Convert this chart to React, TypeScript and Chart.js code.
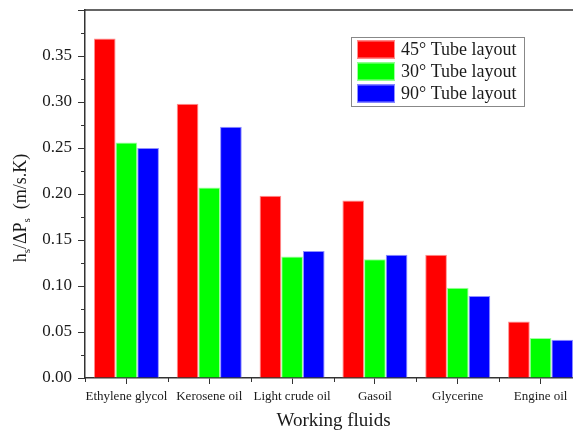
import React, { useEffect, useRef } from 'react';
import { Chart, registerables } from 'chart.js';

Chart.register(...registerables);

const categories = ['Ethylene glycol', 'Kerosene oil', 'Light crude oil', 'Gasoil', 'Glycerine', 'Engine oil'];
const series45 = [0.369, 0.298, 0.198, 0.193, 0.134, 0.0615];
const series30 = [0.256, 0.207, 0.132, 0.129, 0.098, 0.0434];
const series90 = [0.250, 0.273, 0.138, 0.134, 0.089, 0.0416];
const seriesLabels = ['45° Tube layout', '30° Tube layout', '90° Tube layout'];
const seriesColors = ['#ff0000', '#00ff00', '#0000ff'];
const seriesEdges = ['#ff9090', '#a0ffa0', '#9090ff'];
const yMin = 0;
const yMax = 0.4;
const yStep = 0.05;
const xTitle = 'Working fluids';
const yTitleParts = [
  { t: 'h', sub: false },
  { t: 's', sub: true },
  { t: '/ΔP', sub: false },
  { t: 's', sub: true },
  { t: '  (m/s.K)', sub: false },
];

const FONT = "'Liberation Serif', 'Times New Roman', serif";
const AXIS = '#333333';
const TEXT = '#1a1a1a';

const decorPlugin = {
  id: 'decor',
  afterDraw(chart: any) {
    const { ctx, chartArea } = chart;
    const { left, right, top, bottom } = chartArea;
    const xs = chart.scales.x;
    const ys = chart.scales.y;
    ctx.save();
    // frame
    ctx.strokeStyle = AXIS;
    ctx.lineWidth = 1.5;
    ctx.beginPath();
    ctx.moveTo(left, top);
    ctx.lineTo(right, top);
    ctx.lineTo(right, bottom);
    ctx.stroke();
    // minor y ticks
    ctx.lineWidth = 1;
    ctx.beginPath();
    for (let k = 0; k < Math.round((yMax - yMin) / yStep); k++) {
      const v = yMin + (k + 0.5) * yStep;
      const py = Math.round(ys.getPixelForValue(v)) + 0.5;
      ctx.moveTo(left, py);
      ctx.lineTo(left - 4, py);
    }
    // x boundary ticks
    const half = (xs.getPixelForValue(1) - xs.getPixelForValue(0)) / 2;
    for (let i = 0; i <= categories.length; i++) {
      const px = Math.round(xs.getPixelForValue(i) - half) + 0.5;
      ctx.moveTo(px, bottom);
      ctx.lineTo(px, bottom + 4);
    }
    ctx.stroke();

    // y title
    ctx.fillStyle = TEXT;
    ctx.translate(left - 64, 208);
    ctx.rotate(-Math.PI / 2);
    ctx.textBaseline = 'middle';
    ctx.textAlign = 'left';
    const mainFont = `18px ${FONT}`;
    const subFont = `11px ${FONT}`;
    let total = 0;
    for (const p of yTitleParts) {
      ctx.font = p.sub ? subFont : mainFont;
      total += ctx.measureText(p.t).width;
    }
    let x = -total / 2;
    for (const p of yTitleParts) {
      ctx.font = p.sub ? subFont : mainFont;
      ctx.fillText(p.t, x, p.sub ? 6 : 0);
      x += ctx.measureText(p.t).width;
    }
    ctx.restore();

    // legend
    ctx.save();
    const bx = left + 266;
    const by = top + 27;
    const bw = 173;
    const bh = 69;
    ctx.fillStyle = '#ffffff';
    ctx.fillRect(bx, by, bw, bh);
    ctx.strokeStyle = '#888888';
    ctx.lineWidth = 1;
    ctx.strokeRect(bx + 0.5, by + 0.5, bw, bh);
    ctx.font = `18px ${FONT}`;
    ctx.textBaseline = 'middle';
    ctx.textAlign = 'left';
    chart.data.datasets.forEach((ds: any, i: number) => {
      const cy = by + 12.5 + i * 22;
      ctx.fillStyle = ds.backgroundColor;
      ctx.fillRect(bx + 6, cy - 9, 38, 18);
      ctx.strokeStyle = ds.borderColor;
      ctx.strokeRect(bx + 6.5, cy - 8.5, 37, 17);
      ctx.fillStyle = TEXT;
      ctx.fillText(ds.label, bx + 50, cy + 1);
    });
    ctx.restore();
  },
};

export default function App() {
  const ref = useRef<HTMLCanvasElement>(null);
  useEffect(() => {
    if (!ref.current) return;
    const data = [series45, series30, series90];
    const chart = new Chart(ref.current, {
      type: 'bar',
      data: {
        labels: categories,
        datasets: data.map((d, i) => ({
          label: seriesLabels[i],
          data: d,
          backgroundColor: seriesColors[i],
          borderColor: seriesEdges[i],
          borderWidth: 1,
          categoryPercentage: 0.785,
          barPercentage: 1.0,
        })),
      },
      options: {
        animation: false,
        responsive: true,
        maintainAspectRatio: false,
        layout: { padding: { top: 10, right: 18, left: 0, bottom: 0 } },
        plugins: {
          legend: { display: false },
          tooltip: { enabled: false },
        },
        scales: {
          x: {
            afterFit: (s: any) => { s.height = 54; s.paddingLeft = 0; s.paddingRight = 0; },
            grid: {
              display: true,
              drawOnChartArea: false,
              offset: false,
              tickLength: 6,
              tickColor: AXIS,
              tickWidth: 1,
            },
            border: { display: true, color: AXIS, width: 1.5 },
            ticks: {
              color: TEXT,
              font: { family: FONT, size: 13 },
              padding: 5,
              maxRotation: 0,
              autoSkip: false,
            },
            title: {
              display: true,
              text: xTitle,
              color: TEXT,
              font: { family: FONT, size: 19 },
              padding: { top: 0, bottom: 0 },
            },
          },
          y: {
            min: yMin,
            max: yMax,
            afterFit: (s: any) => { s.width = 85; s.paddingTop = 0; s.paddingBottom = 0; },
            grid: {
              display: true,
              drawOnChartArea: false,
              tickLength: 7,
              tickColor: AXIS,
              tickWidth: 1,
            },
            border: { display: true, color: AXIS, width: 1.5 },
            ticks: {
              stepSize: yStep,
              color: TEXT,
              font: { family: FONT, size: 17 },
              padding: 6,
              callback: (v: any) => (Number(v) >= yMax - 1e-9 ? '' : Number(v).toFixed(2)),
            },
          },
        },
      },
      plugins: [decorPlugin],
    });
    return () => chart.destroy();
  }, []);

  return (
    <div style={{ position: 'fixed', left: 0, top: 0, width: 573, height: 432, overflow: 'hidden', background: '#fff' }}>
      <div style={{ position: 'relative', width: 600, height: 432 }}>
        <canvas ref={ref} />
      </div>
    </div>
  );
}
